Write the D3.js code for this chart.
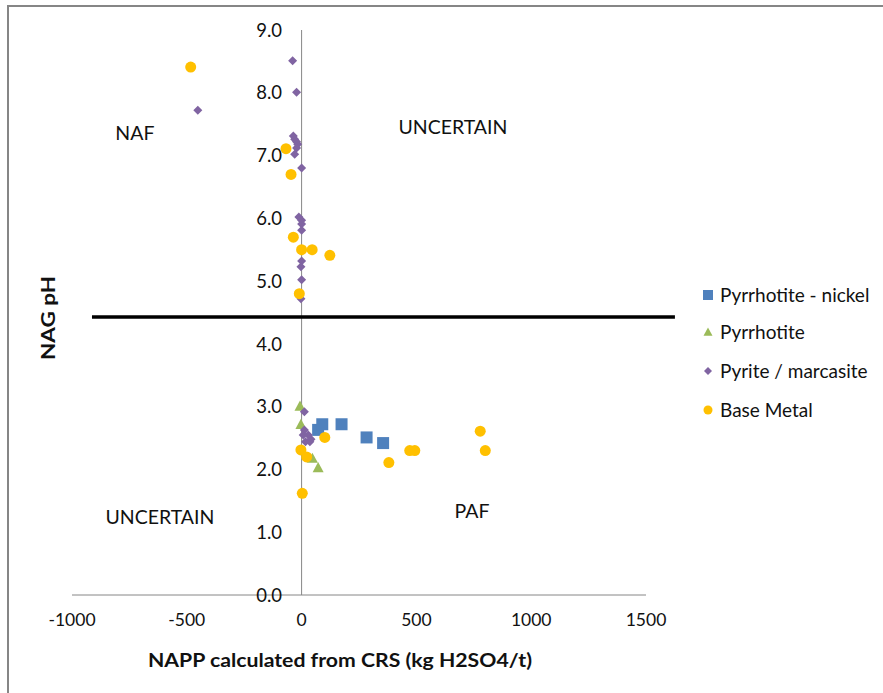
<!DOCTYPE html>
<html>
<head>
<meta charset="utf-8">
<script src="https://cdn.jsdelivr.net/npm/d3@7/dist/d3.min.js"></script>
<style>
  html, body { margin: 0; padding: 0; background: #fff; }
  svg { display: block; }
  text { font-family: Lato, "Open Sans", "Liberation Sans", sans-serif; fill: #111; }
</style>
</head>
<body>
<svg id="chart" width="883" height="693"></svg>
<script>
// ---- Data ----
const seriesNames = ["Pyrrhotite - nickel", "Pyrrhotite", "Pyrite / marcasite", "Base Metal"];

const nickelX = [72, 90, 174, 283, 355];
const nickelY = [2.63, 2.72, 2.72, 2.51, 2.42];

const pyrrhotiteX = [-7, -3, 47, 72];
const pyrrhotiteY = [3.01, 2.72, 2.18, 2.03];

const pyriteX = [-39, -22, -36, -30, -22, -17, -22, -30, 0, -12, 0, 0, 0, 0, -3, 0, -3, -452, 12, 12, 7, 29, 41, 17, 36];
const pyriteY = [8.51, 8.01, 7.31, 7.26, 7.22, 7.18, 7.12, 7.02, 6.80, 6.02, 5.97, 5.91, 5.81, 5.32, 5.23, 5.02, 4.72, 7.72, 2.92, 2.63, 2.55, 2.55, 2.48, 2.44, 2.44];

const baseX = [-483, -68, -46, -36, 0, 46, 123, -10, 101, -3, 22, 3, 380, 471, 493, 778, 800];
const baseY = [8.41, 7.11, 6.70, 5.70, 5.50, 5.50, 5.41, 4.80, 2.51, 2.31, 2.20, 1.62, 2.11, 2.30, 2.30, 2.61, 2.30];

const thresholdX = [-913, 1626];
const thresholdY = [4.43, 4.43];

const xTicks = [-1000, -500, 0, 500, 1000, 1500];
const yTicks = [0, 1, 2, 3, 4, 5, 6, 7, 8, 9];

const regionLabels = ["NAF", "UNCERTAIN", "UNCERTAIN", "PAF"];
const regionX = [-726, 659, -617, 742];
const regionY = [7.36, 7.45, 1.24, 1.34];

const xTitle = "NAPP calculated from CRS (kg H2SO4/t)";
const yTitle = "NAG pH";

// ---- Layout ----
const svg = d3.select("#chart");
const x = d3.scaleLinear().domain([-1000, 1500]).range([72, 646]);
const y = d3.scaleLinear().domain([0, 9]).range([595, 30]);

const colors = ["#4F81BD", "#9BBB59", "#8064A2", "#FFC000"];

// chart border
svg.append("rect").attr("x", 8).attr("y", 6).attr("width", 900).attr("height", 720)
  .attr("fill", "none").attr("stroke", "#868686").attr("stroke-width", 2);

// axes (cross at 0)
svg.append("line").attr("x1", x(-1000)).attr("x2", x(1500)).attr("y1", y(0)).attr("y2", y(0))
  .attr("stroke", "#868686").attr("stroke-width", 1);
svg.append("line").attr("x1", x(0)).attr("x2", x(0)).attr("y1", y(0)).attr("y2", y(9))
  .attr("stroke", "#868686").attr("stroke-width", 1);

// tick labels
svg.append("g").selectAll("text").data(yTicks).join("text")
  .attr("x", 282).attr("y", d => y(d)).attr("dy", "0.36em")
  .attr("text-anchor", "end").attr("font-size", 18.5)
  .text(d => d.toFixed(1));
svg.append("g").selectAll("text").data(xTicks).join("text")
  .attr("x", d => x(d)).attr("y", 620).attr("dy", "0.36em")
  .attr("text-anchor", "middle").attr("font-size", 17.5)
  .text(d => d);

// titles
svg.append("text").attr("x", 340).attr("y", 660).attr("dy", "0.36em")
  .attr("text-anchor", "middle").attr("font-size", 19).attr("font-weight", "bold")
  .attr("textLength", 384).attr("lengthAdjust", "spacingAndGlyphs")
  .text(xTitle);
svg.append("text").attr("transform", "translate(48,318) rotate(-90)").attr("dy", "0.36em")
  .attr("text-anchor", "middle").attr("font-size", 19).attr("font-weight", "bold")
  .attr("textLength", 84).attr("lengthAdjust", "spacingAndGlyphs")
  .text(yTitle);

// region labels
svg.append("g").selectAll("text").data(regionLabels).join("text")
  .attr("x", (d, i) => x(regionX[i])).attr("y", (d, i) => y(regionY[i])).attr("dy", "0.36em")
  .attr("text-anchor", "middle").attr("font-size", 19.5)
  .text(d => d);

// threshold line
svg.append("line")
  .attr("x1", x(thresholdX[0])).attr("x2", x(thresholdX[1]))
  .attr("y1", y(thresholdY[0])).attr("y2", y(thresholdY[1]))
  .attr("stroke", "#000").attr("stroke-width", 3.5);

// marker shapes
function shapePath(kind, s) {
  if (kind === 0) { const h = s / 2; return `M${-h},${-h}H${h}V${h}H${-h}Z`; }
  if (kind === 1) { const h = s / 2; return `M0,${-h}L${h},${h * 0.85}L${-h},${h * 0.85}Z`; }
  if (kind === 2) { const h = s / 2; return `M0,${-h}L${h},0L0,${h}L${-h},0Z`; }
  const r = s / 2;
  return `M${r},0A${r},${r} 0 1,1 ${-r},0A${r},${r} 0 1,1 ${r},0Z`;
}
const seriesData = [
  [nickelX, nickelY], [pyrrhotiteX, pyrrhotiteY], [pyriteX, pyriteY], [baseX, baseY]
];
const markerSize = [12, 11, 9, 11];
[0, 1, 2, 3].forEach(k => {
  const [xs, ys] = seriesData[k];
  svg.append("g").selectAll("path").data(xs.map((v, i) => [v, ys[i]])).join("path")
    .attr("transform", d => `translate(${x(d[0])},${y(d[1])})`)
    .attr("d", shapePath(k, markerSize[k]))
    .attr("fill", colors[k]);
});

// legend
const legendY = [295, 332, 371, 410];
const legendSize = [10, 9, 8, 9];
const lg = svg.append("g");
seriesNames.forEach((name, k) => {
  lg.append("path").attr("transform", `translate(708,${legendY[k]})`)
    .attr("d", shapePath(k, legendSize[k])).attr("fill", colors[k]);
  lg.append("text").attr("x", 720).attr("y", legendY[k]).attr("dy", "0.36em")
    .attr("font-size", 19).text(name);
});
</script>
</body>
</html>
